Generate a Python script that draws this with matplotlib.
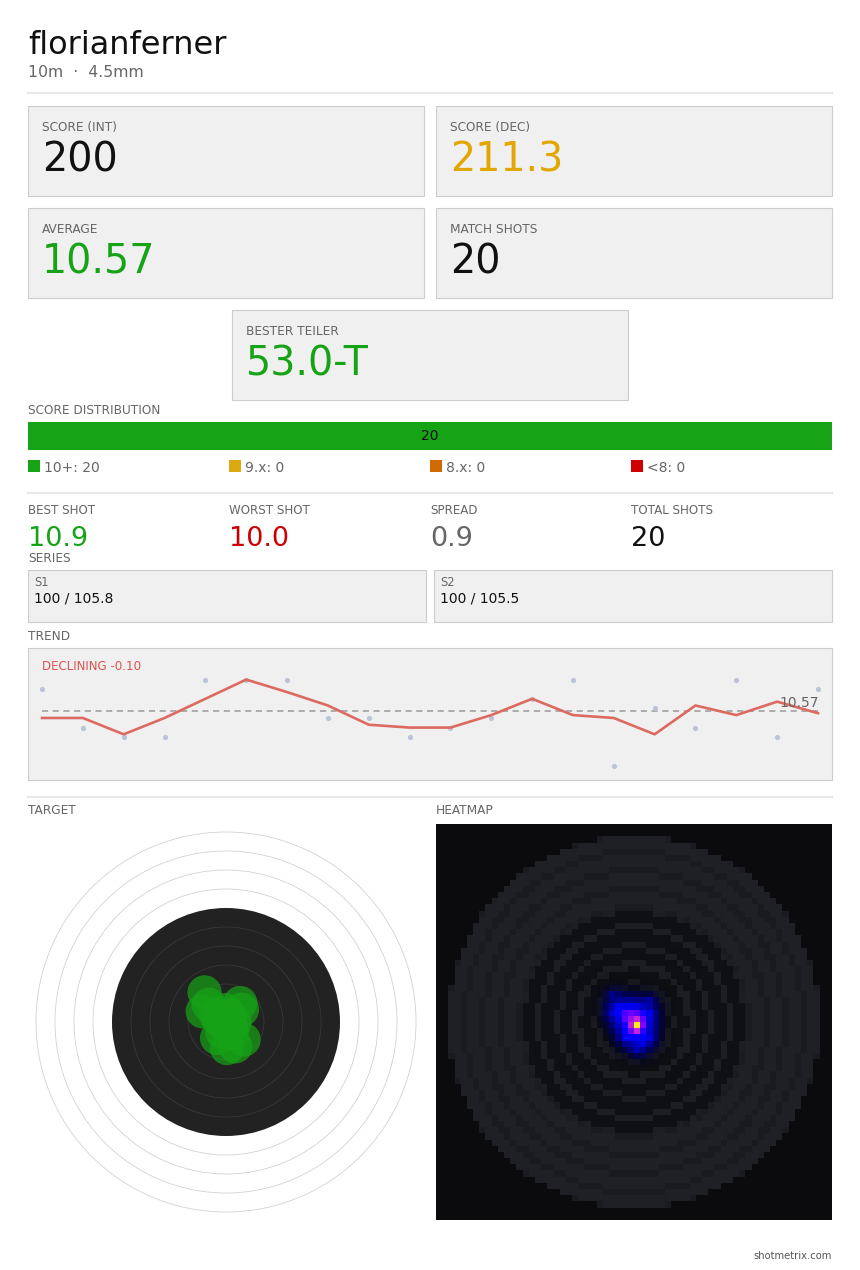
import numpy as np
import matplotlib
matplotlib.use('Agg')
import matplotlib.pyplot as plt
from matplotlib.patches import Rectangle, Circle

plt.rcParams['font.family'] = ['DejaVu Sans']

# ---- data ----
shooter = 'florianferner'
subtitle = '10m  \u00b7  4.5mm'

card_labels = ['SCORE (INT)', 'SCORE (DEC)', 'AVERAGE', 'MATCH SHOTS', 'BESTER TEILER']
card_values = ['200', '211.3', '10.57', '20', '53.0-T']
card_colors = ['#111111', '#e2a600', '#16a316', '#111111', '#16a316']

dist_labels = ['10+', '9.x', '8.x', '<8']
dist_counts = [20, 0, 0, 0]
dist_colors = ['#16a316', '#dcaa10', '#d06a00', '#d00000']

stat_labels = ['BEST SHOT', 'WORST SHOT', 'SPREAD', 'TOTAL SHOTS']
stat_values = ['10.9', '10.0', '0.9', '20']
stat_colors = ['#16a316', '#cc0000', '#666666', '#111111']

series_labels = ['S1', 'S2']
series_values = ['100 / 105.8', '100 / 105.5']

shot_scores = [10.8, 10.4, 10.3, 10.3, 10.9, 10.9, 10.9, 10.5, 10.5, 10.3,
               10.4, 10.5, 10.7, 10.9, 10.0, 10.6, 10.4, 10.9, 10.3, 10.8]
trend_values = [10.5, 10.5, 10.33, 10.5, 10.7, 10.9, 10.77, 10.63, 10.43, 10.4,
                10.4, 10.53, 10.7, 10.53, 10.5, 10.33, 10.63, 10.53, 10.67, 10.55]
mean_score = 10.57
trend_label = 'DECLINING -0.10'

# shot positions on the target, in ring widths (x right, y up)
shot_x = [-1.13, -1.23, -0.91, 0.75, 0.84, 0.93, 0.05, -0.47, 0.49, -0.35,
          0.20, 0.05, 0.45, -0.20, 0.30, -0.05, -0.55, 0.25, 0.15, -0.05]
shot_y = [1.56, 0.56, 0.91, 1.00, 0.65, -0.93, -1.37, -0.84, -1.28, 0.10,
          0.35, -0.25, 0.00, -0.50, -0.60, 0.62, 0.40, -0.20, -0.10, 0.15]
shot_radius = 0.9

W, H = 860, 1270
fig = plt.figure(figsize=(W / 100, H / 100), dpi=100)
fig.patch.set_facecolor('white')


def add_px_axes(x0, y0, x1, y1, **kw):
    return fig.add_axes([x0 / W, 1 - y1 / H, (x1 - x0) / W, (y1 - y0) / H], **kw)


def blur(a, sigma):
    k = np.arange(-8, 9)
    kern = np.exp(-k ** 2 / (2 * sigma ** 2))
    kern /= kern.sum()
    a = np.apply_along_axis(lambda v: np.convolve(v, kern, mode='same'), 0, a)
    return np.apply_along_axis(lambda v: np.convolve(v, kern, mode='same'), 1, a)


LABEL = '#666666'
BOX_FACE = '#f0f0f0'
BOX_EDGE = '#cccccc'

# ---- trend chart ----
tr = add_px_axes(28, 648, 832, 780)
tr.set_facecolor(BOX_FACE)
for s in tr.spines.values():
    s.set_color(BOX_EDGE)
    s.set_linewidth(0.8)
idx = np.arange(1, len(shot_scores) + 1)
tr.scatter(idx, shot_scores, s=14, color='#bcc3d6', zorder=2, linewidths=0)
tr.plot(idx, trend_values, color='#dd6a60', lw=1.9, zorder=3)
tr.plot([idx[0], idx[-1]], [mean_score, mean_score], color='#999999', lw=1.1,
        dashes=(4, 3), zorder=1)
tr.set_xlim(0.657, 20.343)
tr.set_ylim(9.854, 11.229)
tr.set_xticks([])
tr.set_yticks([])

# ---- score distribution bar ----
db = add_px_axes(28, 422, 832, 450)
left = 0
for lab, cnt, col in zip(dist_labels, dist_counts, dist_colors):
    if cnt > 0:
        db.barh(0, cnt, left=left, height=1, color=col)
        db.text(left + cnt / 2, 0, str(cnt), ha='center', va='center',
                fontsize=10, color='#111111')
    left += cnt
db.set_xlim(0, sum(dist_counts))
db.set_ylim(-0.5, 0.5)
db.axis('off')

# ---- target ----
tg = add_px_axes(26, 822, 426, 1222)
lim = 200 / 19
tg.add_patch(Circle((0, 0), 6, color='#222222', lw=0, zorder=1))
for k in range(7, 11):
    tg.add_patch(Circle((0, 0), k, fill=False, ec='#d2d2d2', lw=0.6, zorder=2))
for k in range(1, 6):
    tg.add_patch(Circle((0, 0), k, fill=False, ec='#3c3c3c', lw=0.5, zorder=2))
for x, y in zip(shot_x, shot_y):
    tg.add_patch(Circle((x, y), shot_radius, color='#16a316', alpha=0.7, lw=0, zorder=3))
tg.set_xlim(-lim, lim)
tg.set_ylim(-lim, lim)
tg.set_aspect('equal')
tg.axis('off')

# ---- heatmap ----
hm = add_px_axes(436, 824, 832, 1220)
n = 64
half = 10.5
edges = np.linspace(-half, half, n + 1)
c = (edges[:-1] + edges[1:]) / 2
gx, gy = np.meshgrid(c, c[::-1])
r = np.hypot(gx, gy)
base = np.zeros((n, n, 3))
base[:] = np.array([11, 11, 13]) / 255
outer = (r <= 9.9) & (r > 6)
inner = r <= 6
ring_line = np.abs(r - np.round(r)) < 0.17
base[outer] = np.array([31, 32, 37]) / 255
base[inner] = np.array([15, 16, 20]) / 255
base[outer & ring_line] = np.array([26, 27, 32]) / 255
base[inner & ring_line] = np.array([29, 30, 35]) / 255

counts, _, _ = np.histogram2d(shot_y, shot_x, bins=[edges, edges])
counts = counts[::-1]
broad = blur(counts, 2.0)
broad = 0.36 * broad / broad.max()
sharp = blur(counts ** 2, 0.6)
sharp = sharp / sharp.max()
dens = broad + 0.64 * sharp
dens = 0.88 * dens / dens.max()
heat = plt.get_cmap('gnuplot2')(dens)[..., :3]
alpha = np.clip(dens / 0.09, 0, 1)[..., None]
img = base * (1 - alpha) + heat * alpha
hm.imshow(img, extent=(-half, half, -half, half), interpolation='nearest', origin='upper')
hm.axis('off')

# ---- layout overlay (cards, labels, text) ----
lay = fig.add_axes([0, 0, 1, 1], zorder=5)
lay.set_xlim(0, W)
lay.set_ylim(H, 0)
lay.axis('off')
lay.patch.set_alpha(0)

lay.text(28, 54, shooter, fontsize=23, color='#111111', va='baseline')
lay.text(28, 77, subtitle, fontsize=11.3, color=LABEL, va='baseline')
for y in (93, 493, 797):
    lay.plot([28, 832], [y, y], color='#e8e8e8', lw=1.5)

card_boxes = [(28, 106, 424, 196), (436, 106, 832, 196),
              (28, 208, 424, 298), (436, 208, 832, 298),
              (232, 310, 628, 400)]
for (x0, y0, x1, y1), lab, val, col in zip(card_boxes, card_labels, card_values, card_colors):
    lay.add_patch(Rectangle((x0, y0), x1 - x0, y1 - y0, fc=BOX_FACE, ec=BOX_EDGE, lw=0.8))
    lay.text(x0 + 14, y0 + 25, lab, fontsize=8.7, color=LABEL, va='baseline')
    lay.text(x0 + 14, y0 + 66, val, fontsize=28.5, color=col, va='baseline')

lay.text(28, 414, 'SCORE DISTRIBUTION', fontsize=8.7, color=LABEL, va='baseline')
for i, (lab, cnt, col) in enumerate(zip(dist_labels, dist_counts, dist_colors)):
    x = 28 + i * 201
    lay.add_patch(Rectangle((x, 460), 12, 12, fc=col, ec='none'))
    lay.text(x + 16, 472, f'{lab}: {cnt}', fontsize=10, color=LABEL, va='baseline')

for i, (lab, val, col) in enumerate(zip(stat_labels, stat_values, stat_colors)):
    x = 28 + i * 201
    lay.text(x, 514, lab, fontsize=8.6, color=LABEL, va='baseline')
    lay.text(x, 546, val, fontsize=19.5, color=col, va='baseline')

lay.text(28, 562, 'SERIES', fontsize=8.7, color=LABEL, va='baseline')
series_boxes = [(28, 570, 426, 622), (434, 570, 832, 622)]
for (x0, y0, x1, y1), lab, val in zip(series_boxes, series_labels, series_values):
    lay.add_patch(Rectangle((x0, y0), x1 - x0, y1 - y0, fc=BOX_FACE, ec=BOX_EDGE, lw=0.8))
    lay.text(x0 + 6, 586, lab, fontsize=8.3, color=LABEL, va='baseline')
    lay.text(x0 + 6, 603, val, fontsize=10, color='#111111', va='baseline')

lay.text(28, 640, 'TREND', fontsize=8.7, color=LABEL, va='baseline')
lay.text(42, 670, trend_label, fontsize=8.6, color='#d9534f', va='baseline')
lay.text(819, 707, f'{mean_score:.2f}', fontsize=10, color='#666666', ha='right', va='baseline')

lay.text(28, 814, 'TARGET', fontsize=8.7, color=LABEL, va='baseline')
lay.text(436, 814, 'HEATMAP', fontsize=8.7, color=LABEL, va='baseline')
lay.text(832, 1259, 'shotmetrix.com', fontsize=7.2, color='#555555', ha='right', va='baseline')

fig.savefig('out.png', dpi=100)
